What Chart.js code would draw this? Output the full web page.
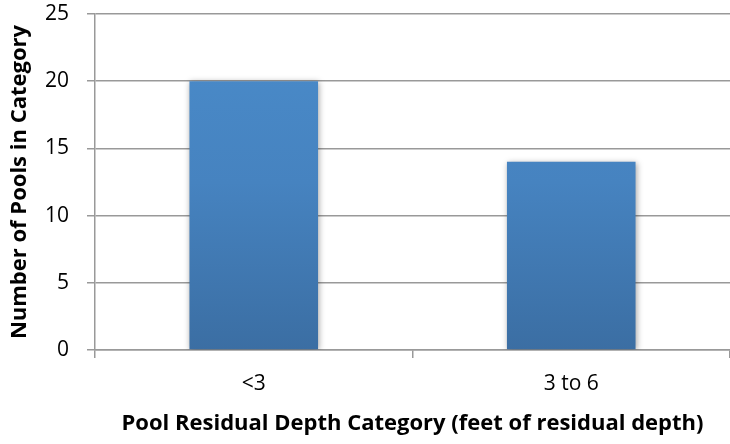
<!DOCTYPE html>
<html>
<head>
<meta charset="utf-8">
<script src="https://cdn.jsdelivr.net/npm/chart.js@4/dist/chart.umd.min.js"></script>
<style>
  html, body { margin: 0; padding: 0; background: #fff; }
  #wrap { width: 730px; height: 444px; }
</style>
</head>
<body>
<div id="wrap"><canvas id="myChart"></canvas></div>
<script>
const categories = ['<3', '3 to 6'];
const poolCounts = [20, 14];
const yTicks = [0, 5, 10, 15, 20, 25];

const ctx = document.querySelector('#myChart').getContext('2d');

// soft shadow behind the bars, like the original
const barShadow = {
  id: 'barShadow',
  beforeDatasetsDraw(chart) {
    const c = chart.ctx;
    c.save();
    c.shadowColor = 'rgba(0,0,0,0.35)';
    c.shadowBlur = 6;
    c.shadowOffsetX = 1;
    c.shadowOffsetY = 1;
  },
  afterDatasetsDraw(chart) {
    chart.ctx.restore();
  }
};

function barGradient(context) {
  const area = context.chart.chartArea;
  if (!area) return '#4480BC';
  const g = context.chart.ctx.createLinearGradient(0, area.top, 0, area.bottom);
  g.addColorStop(0, '#4A8CCB');
  g.addColorStop(0.5, '#4683C0');
  g.addColorStop(1, '#3B6EA3');
  return g;
}

new Chart(ctx, {
  type: 'bar',
  data: {
    labels: categories,
    datasets: [{
      label: 'Pools',
      data: poolCounts,
      backgroundColor: barGradient,
      borderWidth: 0,
      barPercentage: 0.405,
      categoryPercentage: 1.0,
    }]
  },
  options: {
    responsive: true,
    maintainAspectRatio: false,
    animation: false,
    layout: { padding: { top: 14, right: 0, left: 0, bottom: 0 } },
    plugins: {
      legend: { display: false },
      tooltip: { enabled: false }
    },
    scales: {
      x: {
        afterFit(axis) {
          axis.height = 94;
          axis.paddingRight = 0;
        },
        border: { color: '#999', width: 1.5 },
        grid: { display: true, drawOnChartArea: false, offset: true, color: '#999', lineWidth: 1.5, tickLength: 8 },
        ticks: { color: '#000', font: { family: 'Open Sans', size: 21 }, padding: 13 },
        title: {
          display: true,
          text: 'Pool Residual Depth Category (feet of residual depth)',
          color: '#000',
          font: { family: 'Open Sans', size: 22, weight: 'bold' },
          padding: { top: 0, bottom: 7 }
        }
      },
      y: {
        min: 0,
        max: 25,
        afterBuildTicks(axis) { axis.ticks = yTicks.map(v => ({ value: v })); },
        afterFit(axis) {
          axis.width = 95;
          axis.paddingTop = 12;
          axis.paddingBottom = 12;
        },
        border: { color: '#999', width: 1.5 },
        grid: { color: '#999', lineWidth: 1.5, tickLength: 8 },
        ticks: { color: '#000', font: { family: 'Open Sans', size: 21 }, padding: 18 },
        title: {
          display: true,
          text: 'Number of Pools in Category',
          color: '#000',
          font: { family: 'Open Sans', size: 22, weight: 'bold' },
          padding: { top: 7, bottom: 0 }
        }
      }
    }
  },
  plugins: [barShadow],
});
</script>
</body>
</html>
